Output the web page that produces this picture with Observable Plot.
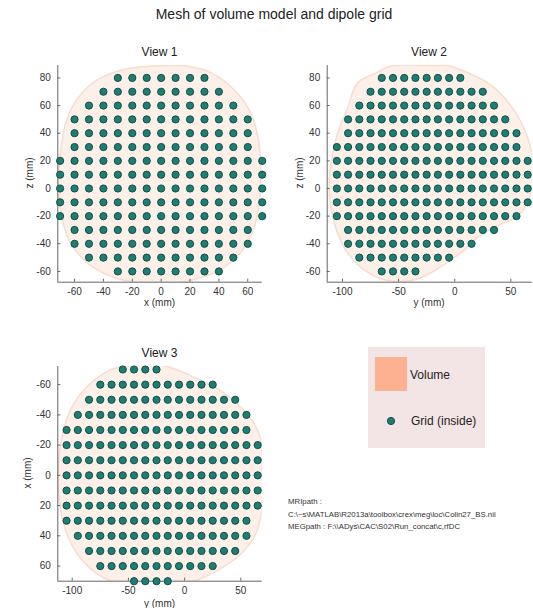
<!DOCTYPE html>
<html><head><meta charset="utf-8">
<script src="https://cdn.jsdelivr.net/npm/d3@7"></script>
<script src="https://cdn.jsdelivr.net/npm/@observablehq/plot@0.6"></script>
<style>
body{margin:0;background:#fff;font-family:"Liberation Sans",Arial,sans-serif;color:#222}
#fig{position:relative;width:533px;height:608px;overflow:hidden;background:#fff}
.abs{position:absolute;white-space:nowrap;line-height:1}
.ttl{font-size:14px;transform:translateX(-50%)}
.view{font-size:12px;transform:translateX(-50%)}
.lab{font-size:10px;color:#333;transform:translateX(-50%)}
.rlab{font-size:10px;color:#333;transform:translate(-50%,-50%) rotate(-90deg)}
.path{font-size:7.8px;color:#333;line-height:12.5px}
svg{position:absolute}
</style></head><body><div id="fig"></div>
<script>
const title = "Mesh of volume model and dipole grid";
const viewTitles = ["View 1", "View 2", "View 3"];
const axisLabels = [["x (mm)", "z (mm)"], ["y (mm)", "z (mm)"], ["y (mm)", "x (mm)"]];
const legendLabels = ["Volume", "Grid (inside)"];
const pathLines = ["MRIpath :", "C:\\~s\\MATLAB\\R2013a\\toolbox\\crex\\meg\\loc\\Colin27_BS.nii", "MEGpath : F:\\\\ADys\\CAC\\S02\\Run_concat\\c,rfDC"];

// grid rows: [row coordinate, first column, last column] on the 10 mm grid
const view1Rows = [[80,-30,30],[70,-40,40],[60,-50,50],[50,-60,60],[40,-60,60],[30,-60,60],[20,-70,70],[10,-70,70],[0,-70,70],[-10,-70,70],[-20,-70,70],[-30,-60,60],[-40,-60,60],[-50,-50,50],[-60,-30,40]];
const view2Rows = [[80,-65,5],[70,-75,25],[60,-85,35],[50,-95,45],[40,-95,55],[30,-105,55],[20,-105,65],[10,-105,65],[0,-105,65],[-10,-105,65],[-20,-105,55],[-30,-95,35],[-40,-95,15],[-50,-85,-5],[-60,-65,-35]];
const view3Rows = [[-70,-55,-25],[-60,-75,25],[-50,-85,45],[-40,-95,55],[-30,-105,55],[-20,-105,65],[-10,-105,65],[0,-105,65],[10,-105,65],[20,-105,65],[30,-105,55],[40,-95,55],[50,-85,45],[60,-75,25],[70,-45,-15]];

// volume outlines [horizontal, vertical] in mm
const view1Outline = [[0,89],[18,88.7],[34,84],[50,72],[62,55],[67.7,33.5],[69,9],[68,-10],[64,-29.6],[55,-46.5],[41,-58.7],[22.6,-66],[2,-69],[-16.6,-68],[-35,-63.5],[-51,-54],[-63,-39],[-68.6,-22],[-71,0],[-70,24],[-66,48],[-58,65],[-46.6,77],[-28,85.6]];
const view2Outline = [[-57,88.7],[-21,89],[-6.5,89],[11,84],[32,75],[50,60],[62,43],[69,24],[69,4],[65,-10],[56,-20],[38,-27],[20,-35.6],[8,-45],[-9.5,-55],[-27,-63.5],[-42,-67],[-63,-66],[-81,-58.7],[-95.5,-46.5],[-104.5,-32],[-110,-15],[-112,4],[-109,24],[-104,41],[-95.5,58],[-87,76],[-69,84]];
const view3Outline = [[-57,-72],[-21,-73],[8,-65],[32,-56],[50,-45],[62,-34],[68,-23],[69,-1],[69,21],[63,39],[50,52],[29,63],[8,70],[-12.5,72],[-33,73],[-57,72],[-78,65],[-95.5,52],[-107,34],[-112,12],[-112,-10],[-107,-32],[-98.5,-47.6],[-87,-58.6],[-72,-67.5]];

const xTicks1 = [-60,-40,-20,0,20,40,60];
const yTicks12 = [-60,-40,-20,0,20,40,60,80];
const xTicks23 = [-100,-50,0,50];
const yTicks3 = [-60,-40,-20,0,20,40,60];

const fig = document.getElementById("fig");
const FONT = "'Liberation Sans', Arial, sans-serif";
const DOT_FILL = "#1f7d72", DOT_STROKE = "#11504a";
const fmt = d => String(d);

function panel(o) {
  const pts = [];
  for (const [v, a, b] of o.rows) for (let h = a; h <= b; h += 10) pts.push({h, v});
  const shape = o.outline.map(([h, v]) => ({h, v}));
  const yBottom = o.yReverse ? o.yDomain[1] : o.yDomain[0];
  const svg = Plot.plot({
    width: o.width, height: o.height,
    marginLeft: o.mL, marginRight: o.mR, marginTop: o.mT, marginBottom: o.mB,
    style: {background: "transparent", fontFamily: FONT, fontSize: "10px", color: "#333", overflow: "visible"},
    x: {domain: o.xDomain},
    y: {domain: o.yDomain, reverse: o.yReverse},
    marks: [
      Plot.line(shape, {x: "h", y: "v", curve: "catmull-rom-closed", fill: "#fdf0e9", stroke: "#f6d6c5", strokeWidth: 1.5, strokeOpacity: 0.8, clip: true}),
      Plot.ruleX([o.xDomain[0]], {stroke: "#666", strokeWidth: 1}),
      Plot.ruleY([yBottom], {stroke: "#666", strokeWidth: 1}),
      Plot.axisX(o.xTicks, {tickSize: -3, tickPadding: 9, tickFormat: fmt, label: null, stroke: "#666", fill: "#333"}),
      Plot.axisY(o.yTicks, {tickSize: -3, tickPadding: 10, tickFormat: fmt, label: null, stroke: "#666", fill: "#333"}),
      Plot.dot(pts, {x: "h", y: "v", r: 3.6, fill: DOT_FILL, stroke: DOT_STROKE, strokeWidth: 1})
    ]
  });
  svg.style.left = o.left + "px";
  svg.style.top = o.top + "px";
  fig.appendChild(svg);
}

panel({rows: view1Rows, outline: view1Outline, xDomain: [-71.6, 70], yDomain: [-67.8, 89], yReverse: false,
  xTicks: xTicks1, yTicks: yTicks12, left: 0, top: 60, width: 275, height: 250, mL: 57.3, mR: 13.3, mT: 5, mB: 28.3});
panel({rows: view2Rows, outline: view2Outline, xDomain: [-113.6, 69], yDomain: [-67.8, 89], yReverse: false,
  xTicks: xTicks23, yTicks: yTicks12, left: 270, top: 60, width: 263, height: 250, mL: 56.7, mR: 1.3, mT: 5, mB: 28.3});
panel({rows: view3Rows, outline: view3Outline, xDomain: [-112.8, 69], yDomain: [-72, 70], yReverse: true,
  xTicks: xTicks23, yTicks: yTicks3, left: 0, top: 361, width: 275, height: 247, mL: 57.3, mR: 13.3, mT: 5, mB: 27.3});

function addText(cls, text, x, y) {
  const d = document.createElement("div");
  d.className = "abs " + cls;
  d.textContent = text;
  d.style.left = x + "px";
  d.style.top = y + "px";
  fig.appendChild(d);
  return d;
}
addText("ttl", title, 274, 7);
addText("view", viewTitles[0], 159.5, 46);
addText("view", viewTitles[1], 429, 46);
addText("view", viewTitles[2], 159.5, 347);
addText("lab", axisLabels[0][0], 159.5, 298);
addText("lab", axisLabels[1][0], 429, 298);
addText("lab", axisLabels[2][0], 159.5, 599);
addText("rlab", axisLabels[0][1], 30, 173);
addText("rlab", axisLabels[1][1], 300, 173);
addText("rlab", axisLabels[2][1], 28, 473);

// legend
const lg = document.createElement("div");
lg.style.cssText = "position:absolute;left:368px;top:347px;width:117px;height:101px;background:#f3e5e5";
fig.appendChild(lg);
const sw = document.createElement("div");
sw.style.cssText = "position:absolute;left:375px;top:357px;width:32px;height:34px;background:#fcb191";
fig.appendChild(sw);
const lsvg = document.createElementNS("http://www.w3.org/2000/svg", "svg");
lsvg.setAttribute("width", 12); lsvg.setAttribute("height", 12);
lsvg.style.cssText = "position:absolute;left:385px;top:415px";
lsvg.innerHTML = `<circle cx="6" cy="6" r="3.6" fill="${DOT_FILL}" stroke="${DOT_STROKE}" stroke-width="1"/>`;
fig.appendChild(lsvg);
addText("", legendLabels[0], 410, 369).style.fontSize = "12px";
addText("", legendLabels[1], 411, 415).style.fontSize = "12px";

// paths text
const pt = document.createElement("div");
pt.className = "abs path";
pt.style.left = "288px"; pt.style.top = "496px";
pt.innerHTML = pathLines.map(s => s.replace(/&/g,"&amp;").replace(/</g,"&lt;")).join("<br>");
fig.appendChild(pt);
</script></body></html>
